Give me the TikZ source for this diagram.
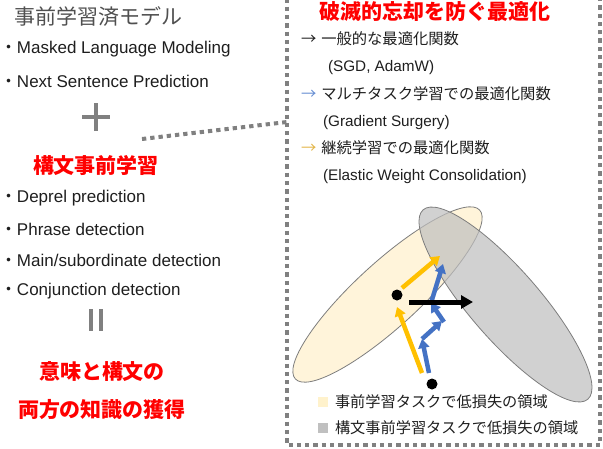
\documentclass[tikz,border=0pt]{standalone}
\usepackage{fontspec}
\setmainfont{Liberation Sans}
\newfontfamily\jp{Noto Sans CJK JP}
\usetikzlibrary{arrows.meta}
\definecolor{redtxt}{RGB}{255,0,0}
\definecolor{graytxt}{RGB}{80,80,80}
\definecolor{darktxt}{RGB}{30,30,30}
\definecolor{dotgray}{RGB}{128,128,128}
\definecolor{yfill}{RGB}{255,244,218}
\definecolor{gfill}{RGB}{190,190,190}
\definecolor{edgegray}{RGB}{125,125,125}
\definecolor{yarrow}{RGB}{255,192,0}
\definecolor{barrow}{RGB}{68,114,196}
\definecolor{ylegend}{RGB}{226,180,70}
\definecolor{blegend}{RGB}{100,140,210}
\definecolor{ysq}{RGB}{255,242,204}
\definecolor{gsq}{RGB}{192,192,192}
\begin{document}
\begin{tikzpicture}[x=1pt,y=-1pt,
  txt/.style={anchor=west, inner sep=0pt, outer sep=0pt},
  redhead/.style={txt, text=redtxt, font=\jp\bfseries\fontsize{21}{25}\selectfont},
  item/.style={txt, text=darktxt, font=\fontsize{17}{20}\selectfont},
  ritem/.style={txt, text=darktxt, font=\fontsize{15.3}{18}\selectfont},
  legtxt/.style={txt, text=darktxt, font=\jp\fontsize{15.2}{18}\selectfont},
  dotline/.style={draw=dotgray, line width=4pt, dash pattern=on 4.3pt off 4pt},
  symbar/.style={draw=dotgray, line width=4pt},
  region/.style={draw=edgegray, line width=0.8pt},
  yarr/.style={draw=yarrow, line width=4.5pt, -{Triangle[width=11pt,length=9pt]}},
  barr/.style={draw=barrow, line width=4.5pt, -{Triangle[width=11pt,length=9pt]}},
  karr/.style={draw=black, line width=5pt, -{Triangle[width=13pt,length=12pt]}},
]
\useasboundingbox (0,0) rectangle (603,448);

% ---- left column ----
\node[txt, text=graytxt, font=\jp\fontsize{21}{25}\selectfont] (title) at (15,16) {事前学習済モデル};
\node[item] (mlm) at (0,49.5) {{\jp ・}Masked Language Modeling};
\node[item] (nsp) at (0,81) {{\jp ・}Next Sentence Prediction};
\coordinate (plus) at (96,117);
\draw[symbar] ([xshift=-14pt]plus) -- ([xshift=14pt]plus);
\draw[symbar] ([yshift=-14pt]plus) -- ([yshift=14pt]plus);
\node[redhead] (synh) at (33,165) {構文事前学習};
\node[item] (dep) at (0,198.5) {{\jp ・}Deprel prediction};
\node[item] (phr) at (0,229.5) {{\jp ・}Phrase detection};
\node[item] (msd) at (0,260.5) {{\jp ・}Main/subordinate detection};
\node[item] (cnj) at (0,291.5) {{\jp ・}Conjunction detection};
\coordinate (eqa) at (91,309);
\coordinate (eqb) at (101,309);
\draw[symbar, line width=3.4pt] (eqa) -- ++(0,22);
\draw[symbar, line width=3.4pt] (eqb) -- ++(0,22);
\node[redhead] (res1) at (39,372) {意味と構文の};
\node[redhead] (res2) at (18,410) {両方の知識の獲得};

% ---- dotted panel ----
\coordinate (c1) at (142,139);
\coordinate (c2) at (287,122);
\draw[dotline] (c1) -- (c2);
\draw[dotline] (287,-10) -- (287,445) -- (600,445) -- (600,-10);

\node[redhead] (opth) at (319,12) {破滅的忘却を防ぐ最適化};
\node[ritem] (o1) at (301,39) {{\jp →}\hspace{5pt}{\jp 一般的な最適化関数}};
\node[ritem] (o1b) at (328,68) {(SGD, AdamW)};
\node[ritem] (o2) at (301,94) {{\jp\color{blegend}→}\hspace{5pt}{\jp マルチタスク学習での最適化関数}};
\node[ritem] (o2b) at (323,123) {(Gradient Surgery)};
\node[ritem] (o3) at (301,148) {{\jp\color{ylegend}→}\hspace{5pt}{\jp 継続学習での最適化関数}};
\node[ritem] (o3b) at (323,177) {(Elastic Weight Consolidation)};

% ---- loss regions ----
\draw[region, fill=yfill, rotate around={42.5:(387.5,294.5)}] (387.5,294.5) ellipse [x radius=125, y radius=32];
\draw[region, fill=gfill, fill opacity=0.7, rotate around={-49:(505.5,304.5)}] (505.5,304.5) ellipse [x radius=125.5, y radius=35];

% ---- trajectories ----
\coordinate (d1) at (397,295);
\coordinate (d2) at (432,384);
\coordinate (y1s) at (422,373);
\coordinate (y1e) at (397,307);
\coordinate (y2s) at (402,288);
\coordinate (y2e) at (440,256);
\coordinate (ks) at (409,302);
\coordinate (ke) at (473,302);
\coordinate (b0) at (429,373);
\coordinate (b1) at (422,339);
\coordinate (b2) at (442,321);
\coordinate (b2s) at (444,322);
\coordinate (b3) at (431,303);
\coordinate (b4) at (443,264);
\draw[yarr] (y1s) -- (y1e);
\draw[yarr] (y2s) -- (y2e);
\draw[barr] (b0) -- (b1);
\draw[barr] (b1) -- (b2);
\draw[barr] (b2s) -- (b3);
\draw[barr] (b3) -- (b4);
\draw[karr] (ks) -- (ke);
\fill (d1) circle [radius=5.5];
\fill (d2) circle [radius=5.5];

% ---- legend ----
\fill[ysq] (318,397) rectangle (328,407);
\node[legtxt] (l1) at (335,402) {事前学習タスクで低損失の領域};
\fill[gsq] (318,423) rectangle (328,433);
\node[legtxt] (l2) at (335,428) {構文事前学習タスクで低損失の領域};
\end{tikzpicture}
\end{document}
